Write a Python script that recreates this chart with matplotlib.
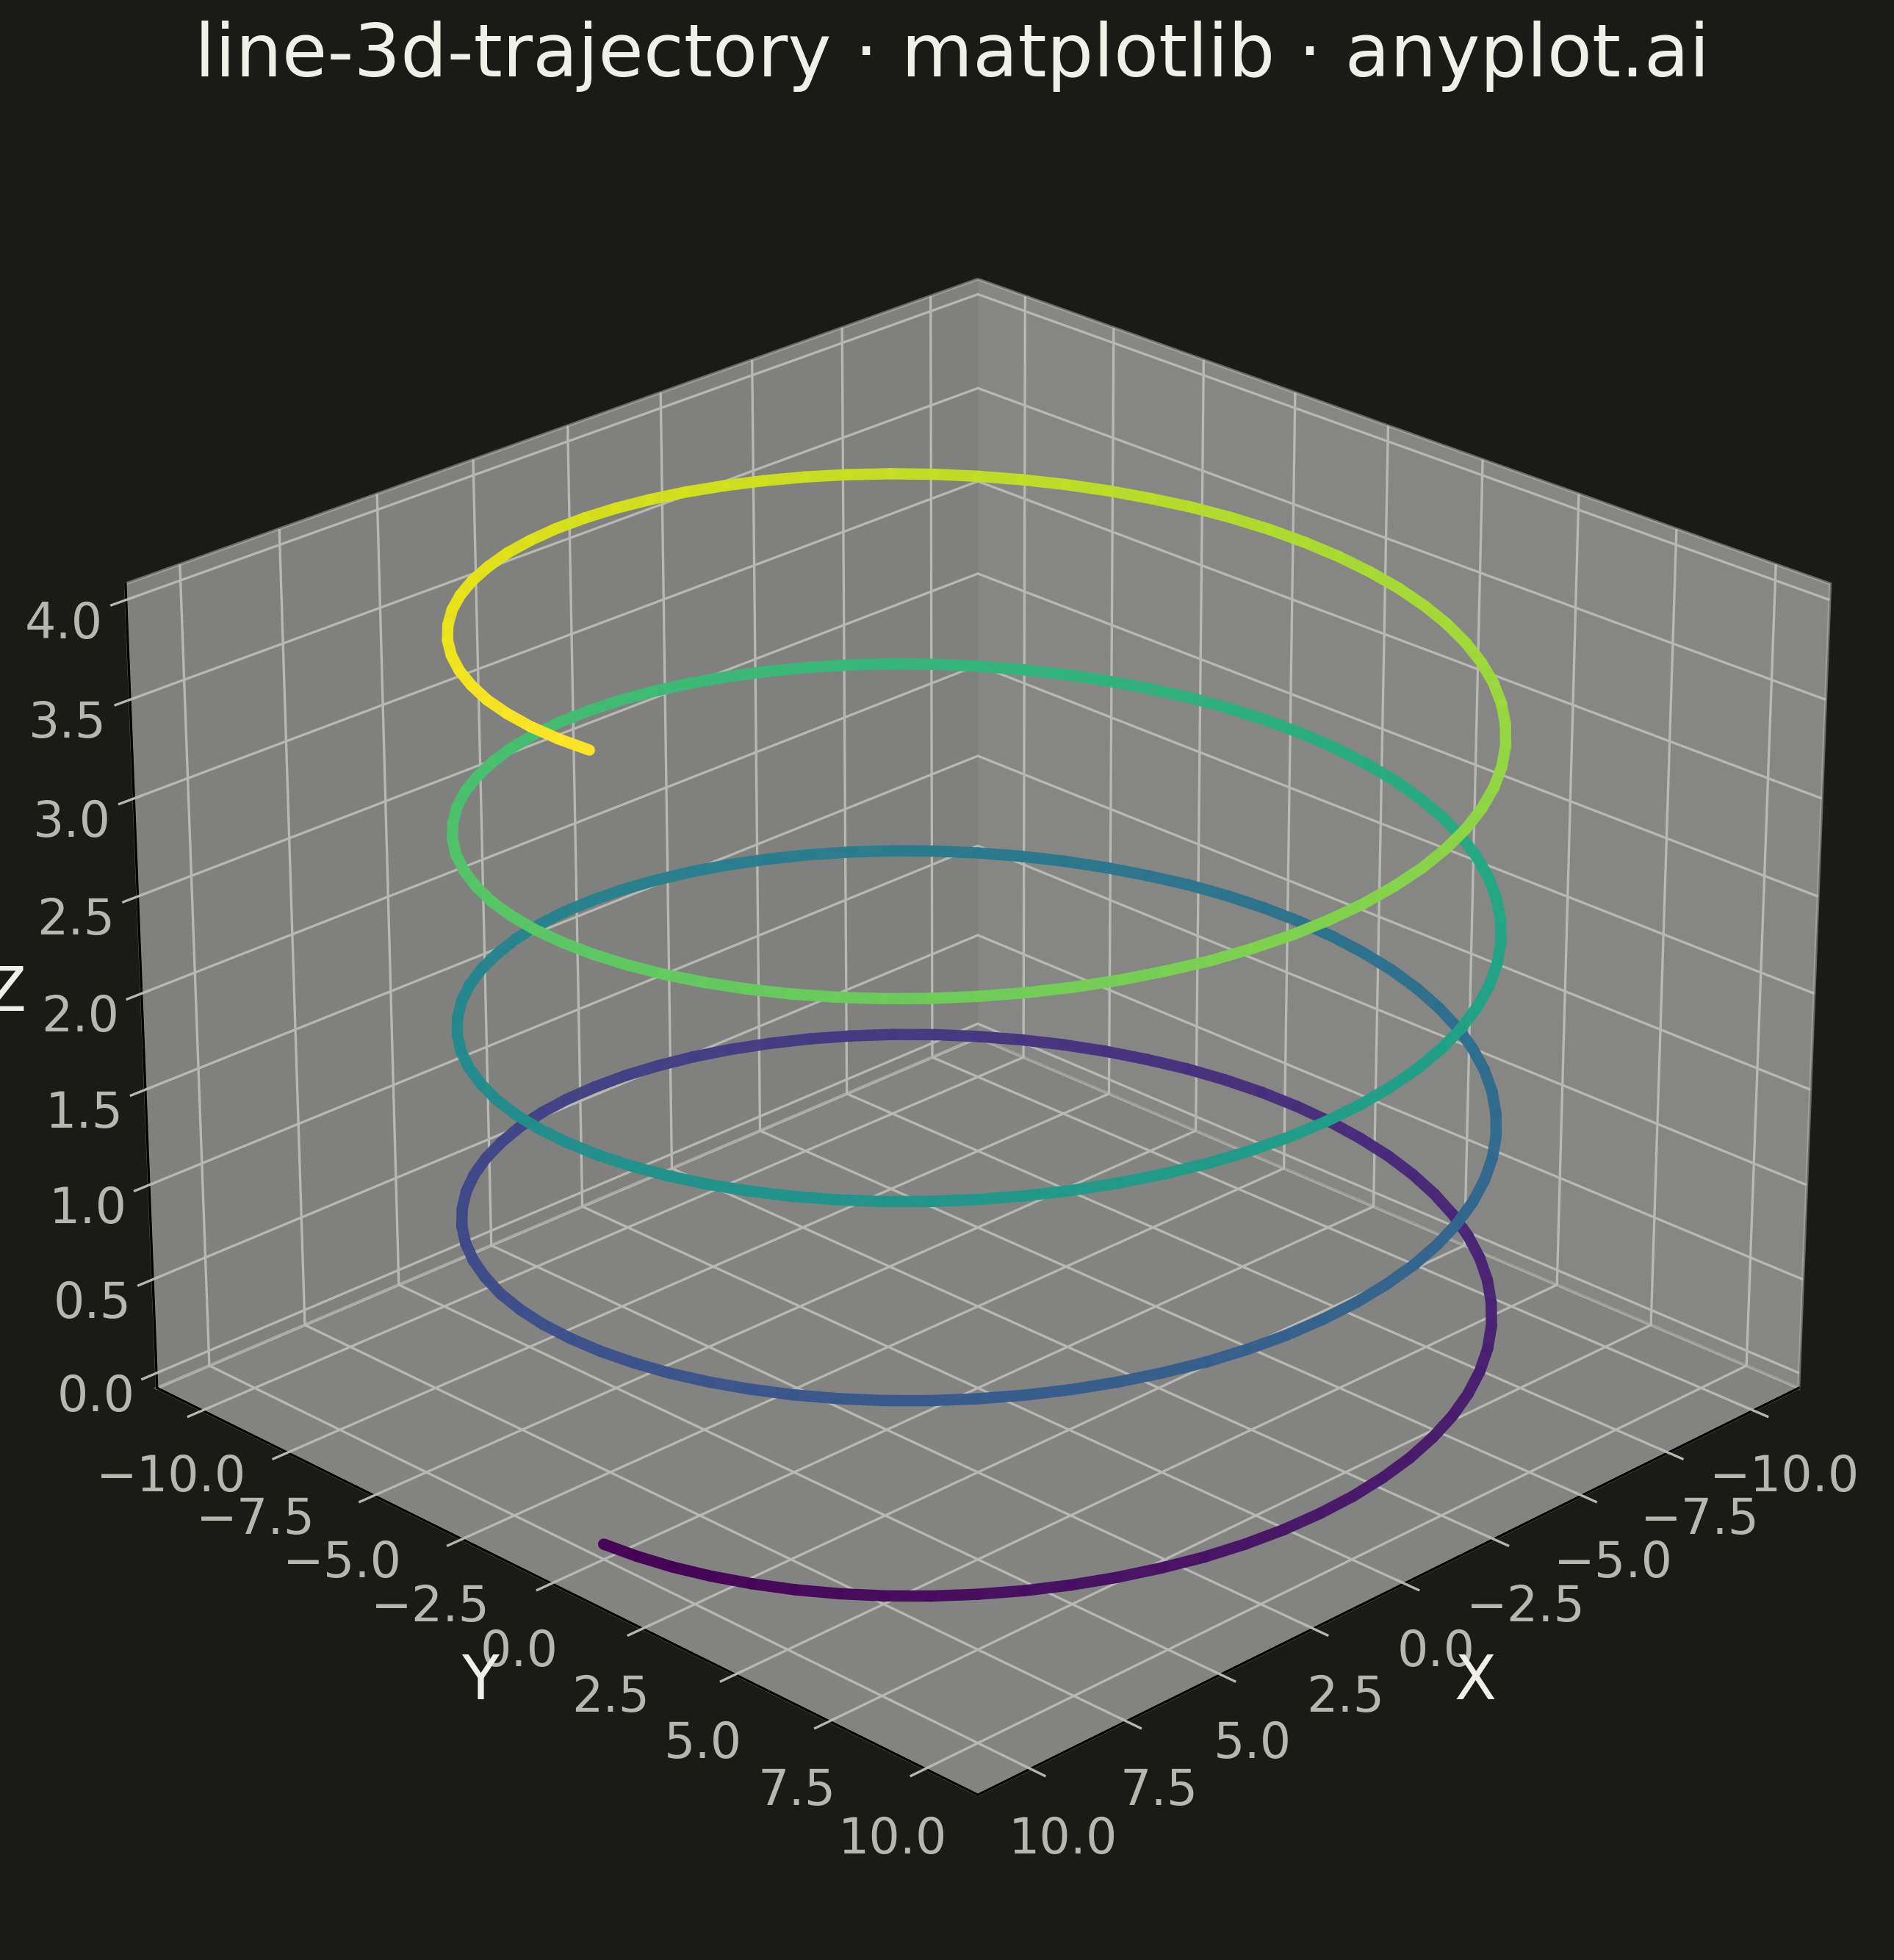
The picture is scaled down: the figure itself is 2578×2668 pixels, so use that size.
import numpy as np
import matplotlib
matplotlib.use("Agg")
import matplotlib.pyplot as plt
from mpl_toolkits.mplot3d.art3d import Line3DCollection

x_values = [
10.00,9.96,9.85,9.66,9.40,9.06,8.66,8.19,7.66,7.07,6.43,5.74,5.00,4.23,3.42,2.59,1.74,0.87,0.00,-0.87,-1.74,-2.59,-3.42,-4.23,-5.00,-5.74,-6.43,-7.07,-7.66,-8.19,-8.66,-9.06,-9.40,-9.66,-9.85,-9.96,
-10.00,-9.96,-9.85,-9.66,-9.40,-9.06,-8.66,-8.19,-7.66,-7.07,-6.43,-5.74,-5.00,-4.23,-3.42,-2.59,-1.74,-0.87,0.00,0.87,1.74,2.59,3.42,4.23,5.00,5.74,6.43,7.07,7.66,8.19,8.66,9.06,9.40,9.66,9.85,9.96,
10.00,9.96,9.85,9.66,9.40,9.06,8.66,8.19,7.66,7.07,6.43,5.74,5.00,4.23,3.42,2.59,1.74,0.87,0.00,-0.87,-1.74,-2.59,-3.42,-4.23,-5.00,-5.74,-6.43,-7.07,-7.66,-8.19,-8.66,-9.06,-9.40,-9.66,-9.85,-9.96,
-10.00,-9.96,-9.85,-9.66,-9.40,-9.06,-8.66,-8.19,-7.66,-7.07,-6.43,-5.74,-5.00,-4.23,-3.42,-2.59,-1.74,-0.87,0.00,0.87,1.74,2.59,3.42,4.23,5.00,5.74,6.43,7.07,7.66,8.19,8.66,9.06,9.40,9.66,9.85,9.96,
10.00,9.96,9.85,9.66,9.40,9.06,8.66,8.19,7.66,7.07,6.43,5.74,5.00,4.23,3.42,2.59,1.74,0.87,0.00,-0.87,-1.74,-2.59,-3.42,-4.23,-5.00,-5.74,-6.43,-7.07,-7.66,-8.19,-8.66,-9.06,-9.40,-9.66,-9.85,-9.96,
-10.00,-9.96,-9.85,-9.66,-9.40,-9.06,-8.66,-8.19,-7.66,-7.07,-6.43,-5.74,-5.00,-4.23,-3.42,-2.59,-1.74,-0.87,0.00,0.87,1.74,2.59,3.42,4.23,5.00,5.74,6.43,7.07,7.66,8.19,8.66,9.06,9.40,9.66,9.85,9.96,
10.00,9.96,9.85,9.66,9.40,9.06,8.66,8.19,7.66,7.07,6.43,5.74,5.00,4.23,3.42,2.59,1.74,0.87,0.00,-0.87,-1.74,-2.59,-3.42,-4.23,-5.00,-5.74,-6.43,-7.07,-7.66,-8.19,-8.66,-9.06,-9.40,-9.66,-9.85,-9.96,
-10.00,-9.96,-9.85,-9.66,-9.40,-9.06,-8.66,-8.19,-7.66,-7.07,-6.43,-5.74,-5.00,-4.23,-3.42,-2.59,-1.74,-0.87,0.00,0.87,1.74,2.59,3.42,4.23,5.00,5.74,6.43,7.07,7.66,8.19,8.66,9.06,9.40,9.66,9.85,9.96,
10.00]
y_values = [
0.00,0.87,1.74,2.59,3.42,4.23,5.00,5.74,6.43,7.07,7.66,8.19,8.66,9.06,9.40,9.66,9.85,9.96,10.00,9.96,9.85,9.66,9.40,9.06,8.66,8.19,7.66,7.07,6.43,5.74,5.00,4.23,3.42,2.59,1.74,0.87,
0.00,-0.87,-1.74,-2.59,-3.42,-4.23,-5.00,-5.74,-6.43,-7.07,-7.66,-8.19,-8.66,-9.06,-9.40,-9.66,-9.85,-9.96,-10.00,-9.96,-9.85,-9.66,-9.40,-9.06,-8.66,-8.19,-7.66,-7.07,-6.43,-5.74,-5.00,-4.23,-3.42,-2.59,-1.74,-0.87,
0.00,0.87,1.74,2.59,3.42,4.23,5.00,5.74,6.43,7.07,7.66,8.19,8.66,9.06,9.40,9.66,9.85,9.96,10.00,9.96,9.85,9.66,9.40,9.06,8.66,8.19,7.66,7.07,6.43,5.74,5.00,4.23,3.42,2.59,1.74,0.87,
0.00,-0.87,-1.74,-2.59,-3.42,-4.23,-5.00,-5.74,-6.43,-7.07,-7.66,-8.19,-8.66,-9.06,-9.40,-9.66,-9.85,-9.96,-10.00,-9.96,-9.85,-9.66,-9.40,-9.06,-8.66,-8.19,-7.66,-7.07,-6.43,-5.74,-5.00,-4.23,-3.42,-2.59,-1.74,-0.87,
0.00,0.87,1.74,2.59,3.42,4.23,5.00,5.74,6.43,7.07,7.66,8.19,8.66,9.06,9.40,9.66,9.85,9.96,10.00,9.96,9.85,9.66,9.40,9.06,8.66,8.19,7.66,7.07,6.43,5.74,5.00,4.23,3.42,2.59,1.74,0.87,
0.00,-0.87,-1.74,-2.59,-3.42,-4.23,-5.00,-5.74,-6.43,-7.07,-7.66,-8.19,-8.66,-9.06,-9.40,-9.66,-9.85,-9.96,-10.00,-9.96,-9.85,-9.66,-9.40,-9.06,-8.66,-8.19,-7.66,-7.07,-6.43,-5.74,-5.00,-4.23,-3.42,-2.59,-1.74,-0.87,
0.00,0.87,1.74,2.59,3.42,4.23,5.00,5.74,6.43,7.07,7.66,8.19,8.66,9.06,9.40,9.66,9.85,9.96,10.00,9.96,9.85,9.66,9.40,9.06,8.66,8.19,7.66,7.07,6.43,5.74,5.00,4.23,3.42,2.59,1.74,0.87,
0.00,-0.87,-1.74,-2.59,-3.42,-4.23,-5.00,-5.74,-6.43,-7.07,-7.66,-8.19,-8.66,-9.06,-9.40,-9.66,-9.85,-9.96,-10.00,-9.96,-9.85,-9.66,-9.40,-9.06,-8.66,-8.19,-7.66,-7.07,-6.43,-5.74,-5.00,-4.23,-3.42,-2.59,-1.74,-0.87,
0.00]
z_values = [
0.000,0.014,0.028,0.042,0.056,0.069,0.083,0.097,0.111,0.125,0.139,0.153,0.167,0.181,0.194,0.208,0.222,0.236,0.250,0.264,0.278,0.292,0.306,0.319,0.333,0.347,0.361,0.375,0.389,0.403,0.417,0.431,0.444,0.458,0.472,0.486,
0.500,0.514,0.528,0.542,0.556,0.569,0.583,0.597,0.611,0.625,0.639,0.653,0.667,0.681,0.694,0.708,0.722,0.736,0.750,0.764,0.778,0.792,0.806,0.819,0.833,0.847,0.861,0.875,0.889,0.903,0.917,0.931,0.944,0.958,0.972,0.986,
1.000,1.014,1.028,1.042,1.056,1.069,1.083,1.097,1.111,1.125,1.139,1.153,1.167,1.181,1.194,1.208,1.222,1.236,1.250,1.264,1.278,1.292,1.306,1.319,1.333,1.347,1.361,1.375,1.389,1.403,1.417,1.431,1.444,1.458,1.472,1.486,
1.500,1.514,1.528,1.542,1.556,1.569,1.583,1.597,1.611,1.625,1.639,1.653,1.667,1.681,1.694,1.708,1.722,1.736,1.750,1.764,1.778,1.792,1.806,1.819,1.833,1.847,1.861,1.875,1.889,1.903,1.917,1.931,1.944,1.958,1.972,1.986,
2.000,2.014,2.028,2.042,2.056,2.069,2.083,2.097,2.111,2.125,2.139,2.153,2.167,2.181,2.194,2.208,2.222,2.236,2.250,2.264,2.278,2.292,2.306,2.319,2.333,2.347,2.361,2.375,2.389,2.403,2.417,2.431,2.444,2.458,2.472,2.486,
2.500,2.514,2.528,2.542,2.556,2.569,2.583,2.597,2.611,2.625,2.639,2.653,2.667,2.681,2.694,2.708,2.722,2.736,2.750,2.764,2.778,2.792,2.806,2.819,2.833,2.847,2.861,2.875,2.889,2.903,2.917,2.931,2.944,2.958,2.972,2.986,
3.000,3.014,3.028,3.042,3.056,3.069,3.083,3.097,3.111,3.125,3.139,3.153,3.167,3.181,3.194,3.208,3.222,3.236,3.250,3.264,3.278,3.292,3.306,3.319,3.333,3.347,3.361,3.375,3.389,3.403,3.417,3.431,3.444,3.458,3.472,3.486,
3.500,3.514,3.528,3.542,3.556,3.569,3.583,3.597,3.611,3.625,3.639,3.653,3.667,3.681,3.694,3.708,3.722,3.736,3.750,3.764,3.778,3.792,3.806,3.819,3.833,3.847,3.861,3.875,3.889,3.903,3.917,3.931,3.944,3.958,3.972,3.986,
4.000]
x_ticks = [-10.0, -7.5, -5.0, -2.5, 0.0, 2.5, 5.0, 7.5, 10.0]
z_ticks = [0.0, 0.5, 1.0, 1.5, 2.0, 2.5, 3.0, 3.5, 4.0]
title_text = "line-3d-trajectory · matplotlib · anyplot.ai"

BG = "#1A1A17"
INK = "#F0EFE8"
SOFT = "#B8B7AF"
GRID = (0.72, 0.72, 0.70, 1.0)

fig = plt.figure(figsize=(2579 / 300, 2668 / 300), dpi=300, facecolor=BG)
ax = fig.add_axes([0.018, 0.0097, 0.970, 0.9415], projection="3d", facecolor=BG)

pts = np.column_stack([x_values, y_values, z_values])
segs = np.stack([pts[:-1], pts[1:]], axis=1)
lc = Line3DCollection(segs, cmap="viridis", linewidths=3.7, alpha=0.97, capstyle="round")
lc.set_array(np.asarray(z_values[:-1]))
ax.add_collection3d(lc)

ax.set_xlim(-11.35, 11.35)
ax.set_ylim(-11.35, 11.35)
ax.set_zlim(-0.08, 4.08)
ax.set_xticks(x_ticks)
ax.set_yticks(x_ticks)
ax.set_zticks(z_ticks)
ax.view_init(elev=25, azim=45)

ax.set_xlabel("X", fontsize=20, color=INK, labelpad=4.5)
ax.set_ylabel("Y", fontsize=20, color=INK, labelpad=4.5)
ax.set_zlabel("Z", fontsize=20, color=INK, labelpad=4.5)
ax.tick_params(axis="both", which="major", labelsize=16, colors=SOFT)
ax.tick_params(axis="z", labelsize=16, colors=SOFT)
for axis in (ax.xaxis, ax.yaxis, ax.zaxis):
    axis._axinfo["grid"]["color"] = GRID
    axis._axinfo["grid"]["linewidth"] = 0.8
    axis.pane.set_edgecolor(SOFT)

fig.text(0.5025, 0.9715, title_text, color=INK, fontsize=24, ha="center", va="center")
fig.savefig("out.png", dpi=300, facecolor=BG)
